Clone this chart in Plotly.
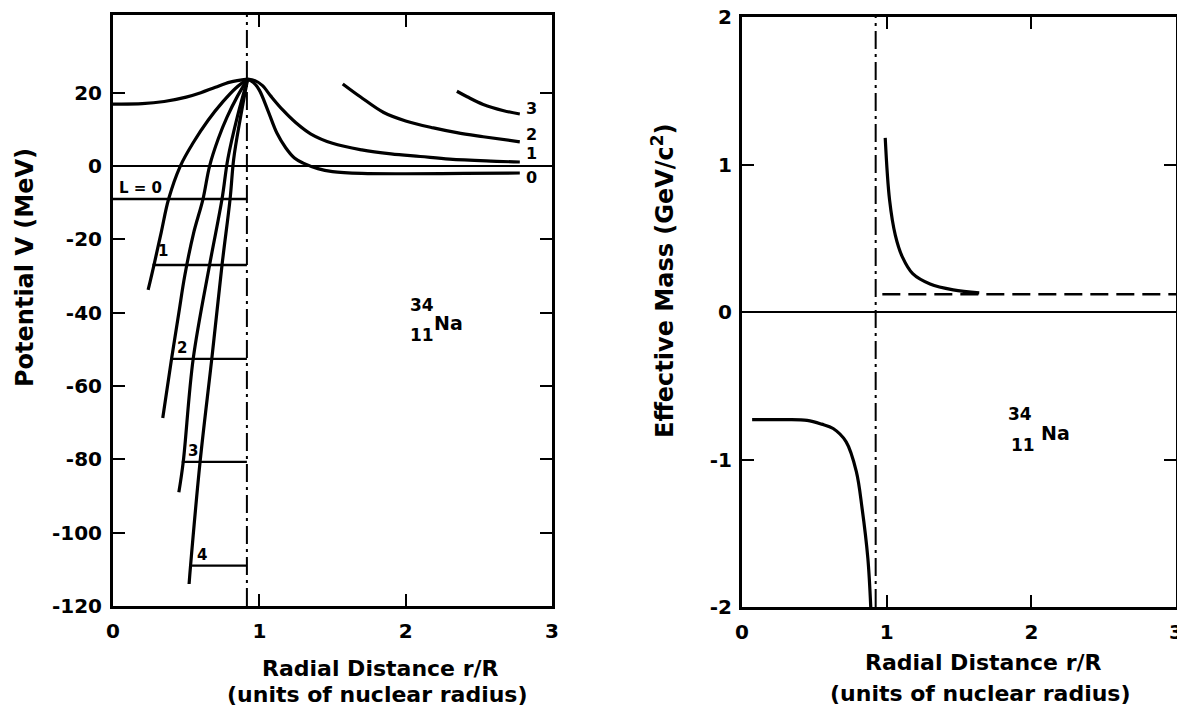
import plotly.graph_objects as go

# the page body adds an 8 px margin on every side, so the figure is made
# 16 px smaller and all target pixel positions are shifted by that offset
OFF = 8
W, H = 1185 - 2 * OFF, 714 - 2 * OFF
FONT = "DejaVu Sans"

def PX(x):
    return min(1.0, (x - OFF) / W)

def PY(y):
    return max(0.0, 1 - (y - OFF) / H)

# ---------------- data: left panel (potential V, MeV vs r/R) ----------------
inner_r = [0, 0.2, 0.35, 0.5, 0.6, 0.7, 0.8, 0.92]
inner_v = [16.9, 17.0, 17.6, 18.8, 20.0, 21.5, 22.9, 23.7]

out0_r = [0.92, 0.96, 1.0, 1.06, 1.12, 1.18, 1.24, 1.3, 1.4, 1.5, 1.7, 2.0, 2.4, 2.78]
out0_v = [23.7, 22.8, 20.7, 15.0, 9.0, 5.0, 2.2, 0.8, -0.7, -1.5, -2.0, -2.1, -2.0, -1.9]

out1_r = [0.92, 0.97, 1.02, 1.08, 1.16, 1.25, 1.35, 1.5, 1.7, 1.9, 2.1, 2.3, 2.55, 2.78]
out1_v = [23.7, 23.3, 22.0, 19.0, 15.3, 11.8, 8.8, 6.2, 4.4, 3.3, 2.6, 1.9, 1.4, 1.1]

out2_r = [1.57, 1.69, 1.85, 2.0, 2.19, 2.35, 2.53, 2.78]
out2_v = [22.4, 18.9, 14.6, 12.3, 10.4, 9.1, 8.0, 6.6]

out3_r = [2.35, 2.42, 2.53, 2.67, 2.78]
out3_v = [20.4, 18.9, 16.8, 15.1, 14.2]

inA_r = [0.24, 0.28, 0.33, 0.38, 0.46, 0.55, 0.65, 0.75, 0.84, 0.92]
inA_v = [-33.8, -27, -18, -9, 0, 6.5, 12.5, 17.5, 21.3, 23.7]

inB_r = [0.34, 0.40, 0.45, 0.49, 0.55, 0.615, 0.66, 0.72, 0.78, 0.85, 0.92]
inB_v = [-68.7, -52.6, -40, -30, -18.4, -9, 0, 7.5, 13.4, 19, 23.7]

inC_r = [0.45, 0.48, 0.548, 0.66, 0.745, 0.785, 0.85, 0.92]
inC_v = [-89, -80.7, -52.6, -27, -9, 2, 13.5, 23.7]

inD_r = [0.52, 0.53, 0.595, 0.675, 0.745, 0.80, 0.825, 0.87, 0.92]
inD_v = [-114, -109, -80.7, -52.6, -27, -9, 2, 13, 23.7]

level_start = [0.0, 0.27, 0.40, 0.47, 0.54]
level_v = [-9, -27, -52.6, -80.7, -109]
level_end = 0.915
level_labels = ["L = 0", "1", "2", "3", "4"]
level_label_r = [0.19, 0.34, 0.47, 0.55, 0.61]
level_label_v = [-5.9, -23.3, -49.6, -77.8, -106.2]

end_labels = ["3", "2", "1", "0"]
end_label_v = [15.6, 8.7, 3.4, -3.2]
end_label_r = 2.86

boundary_r = 0.915

# ---------------- data: right panel (effective mass, GeV/c^2) ----------------
upper_r = [0.99, 1.02, 1.06, 1.11, 1.18, 1.3, 1.46, 1.64]
upper_m = [1.18, 0.76, 0.52, 0.37, 0.26, 0.19, 0.15, 0.13]

lower_r = [0.07, 0.3, 0.45, 0.55, 0.63, 0.72, 0.79, 0.83, 0.87, 0.89]
lower_m = [-0.73, -0.73, -0.735, -0.76, -0.79, -0.88, -1.08, -1.33, -1.67, -2.0]

asym_r = [0.97, 3.0]
asym_m = [0.12, 0.12]

left_yticks = [20, 0, -20, -40, -60, -80, -100, -120]
left_yticktext = ["20", "0", "-20", "-40", "-60", "-80", "-100", "-120"]
right_yticks = [2, 1, 0, -1, -2]
right_yticktext = ["2", "1", "0", "-1", "-2"]
xticks = [0, 1, 2, 3]

# ---------------- figure ----------------
fig = go.Figure()
K = "black"

def curve(x, y, xa="x", ya="y", w=3.2, dash="solid", shape="spline"):
    line = dict(color=K, width=w, dash=dash, shape=shape)
    if shape == "spline":
        line["smoothing"] = 1.0
    fig.add_trace(go.Scatter(x=x, y=y, mode="lines", xaxis=xa, yaxis=ya,
                             line=line, showlegend=False, hoverinfo="skip"))

for xs, ys in [(inner_r, inner_v), (out0_r, out0_v), (out1_r, out1_v),
               (out2_r, out2_v), (out3_r, out3_v), (inA_r, inA_v),
               (inB_r, inB_v), (inC_r, inC_v), (inD_r, inD_v)]:
    curve(xs, ys)

for s, v in zip(level_start, level_v):
    curve([s, level_end], [v, v], w=2.4, shape="linear")

curve([boundary_r, boundary_r], [-120, 41.2], w=2, dash="18px,5px,3px,5px", shape="linear")

curve(upper_r, upper_m, "x2", "y2")
curve(lower_r, lower_m, "x2", "y2")
curve(asym_r, asym_m, "x2", "y2", w=2.6, dash="18px,8px", shape="linear")
curve([0.924, 0.924], [-2, 2], "x2", "y2", w=2, dash="18px,5px,3px,5px", shape="linear")

ax_common = dict(showline=True, linecolor=K, linewidth=3, mirror="ticks",
                 ticks="inside", ticklen=12, tickwidth=2, tickcolor=K,
                 showgrid=False, automargin=False, ticklabeloverflow="allow",
                 tickfont=dict(family=FONT, size=20, color=K, weight="bold"),
                 fixedrange=True)

fig.update_layout(
    template="none",
    width=W, height=H, margin=dict(l=0, r=0, t=0, b=0, pad=0, autoexpand=False),
    paper_bgcolor="white", plot_bgcolor="white",
    font=dict(family=FONT, color=K),
    xaxis=dict(ax_common, domain=[PX(113), PX(552)], range=[0, 3], tickvals=xticks,
               zeroline=False, anchor="y", ticklabelstandoff=5),
    yaxis=dict(ax_common, domain=[PY(606), PY(15)], range=[-120, 41.2],
               tickvals=left_yticks, ticktext=left_yticktext,
               zeroline=True, zerolinecolor=K, zerolinewidth=2, anchor="x",
               ticklabelstandoff=4),
    xaxis2=dict(ax_common, domain=[PX(742), PX(1176)], range=[0, 3], tickvals=xticks,
                zeroline=False, anchor="y2", ticklabelstandoff=5),
    yaxis2=dict(ax_common, domain=[PY(607), PY(17)], range=[-2, 2],
                tickvals=right_yticks, ticktext=right_yticktext,
                zeroline=True, zerolinecolor=K, zerolinewidth=2, anchor="x2",
                ticklabelstandoff=3),
)

ann = []
def txt(x, y, t, size, xref="paper", yref="paper", angle=0, xanchor="center"):
    ann.append(dict(x=x, y=y, xref=xref, yref=yref, text=t, showarrow=False,
                    textangle=angle, xanchor=xanchor, yanchor="middle",
                    font=dict(family=FONT, size=size, color=K, weight="bold")))

# axis titles
txt(PX(25), PY(268), "Potential V (MeV)", 24, angle=-90)
txt(PX(663), PY(281), "Effective Mass (GeV/c<sup>2</sup>)", 24, angle=-90)
txt(PX(380), PY(668), "Radial Distance r/R", 22)
txt(PX(378), PY(694), "(units of nuclear radius)", 22)
txt(PX(983), PY(662), "Radial Distance r/R", 22)
txt(PX(980), PY(693), "(units of nuclear radius)", 22)

# level labels
for t, r, v in zip(level_labels, level_label_r, level_label_v):
    txt(r, v, t, 15, xref="x", yref="y")
for t, v in zip(end_labels, end_label_v):
    txt(end_label_r, v, t, 16, xref="x", yref="y")

# nucleus labels
txt(2.11, -37.9, "34", 17, xref="x", yref="y")
txt(2.11, -46.2, "11", 17, xref="x", yref="y")
txt(2.29, -42.8, "Na", 19, xref="x", yref="y")
txt(1.92, -0.69, "34", 17, xref="x2", yref="y2")
txt(1.94, -0.90, "11", 17, xref="x2", yref="y2")
txt(2.17, -0.82, "Na", 19, xref="x2", yref="y2")

fig.update_layout(annotations=ann)
fig.write_html("out.html")
